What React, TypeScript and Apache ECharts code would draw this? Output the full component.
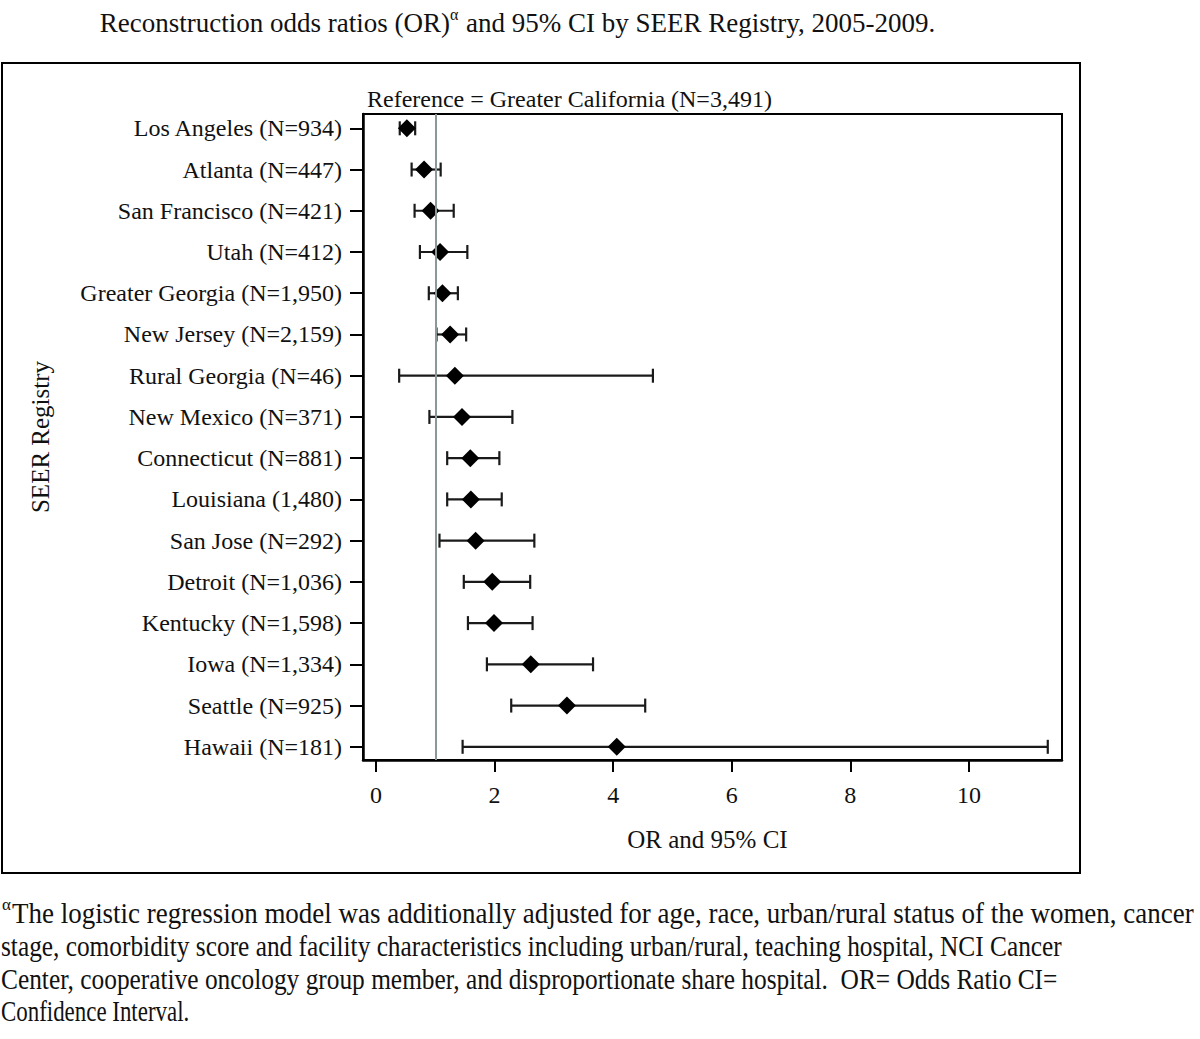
import React, { useEffect, useRef } from "react";
import * as echarts from "echarts";

const registries = [
  "Los Angeles (N=934)",
  "Atlanta (N=447)",
  "San Francisco (N=421)",
  "Utah (N=412)",
  "Greater Georgia (N=1,950)",
  "New Jersey (N=2,159)",
  "Rural Georgia (N=46)",
  "New Mexico (N=371)",
  "Connecticut (N=881)",
  "Louisiana (1,480)",
  "San Jose (N=292)",
  "Detroit (N=1,036)",
  "Kentucky (N=1,598)",
  "Iowa (N=1,334)",
  "Seattle (N=925)",
  "Hawaii (N=181)",
];
const oddsRatio = [0.52, 0.81, 0.92, 1.08, 1.12, 1.25, 1.33, 1.45, 1.59, 1.6, 1.68, 1.96, 1.99, 2.61, 3.22, 4.06];
const ciLower = [0.4, 0.6, 0.65, 0.74, 0.89, 1.02, 0.39, 0.9, 1.2, 1.2, 1.07, 1.48, 1.55, 1.87, 2.28, 1.46];
const ciUpper = [0.66, 1.09, 1.31, 1.54, 1.38, 1.52, 4.67, 2.3, 2.08, 2.12, 2.67, 2.6, 2.64, 3.66, 4.54, 11.33];
const xTicks = [0, 2, 4, 6, 8, 10];
const referenceOR = 1;

const titleLeft = "Reconstruction odds ratios (OR)";
const titleRight = "and 95% CI by SEER Registry, 2005-2009.";
const referenceText = "Reference = Greater California (N=3,491)";
const footnoteLines = [
  "The logistic regression model was additionally adjusted for age, race, urban/rural status of the women, cancer",
  "stage, comorbidity score and facility characteristics including urban/rural, teaching hospital, NCI Cancer",
  "Center, cooperative oncology group member, and disproportionate share hospital.\u00a0 OR= Odds Ratio CI=",
  "Confidence Interval.",
];

const FONT = "'Liberation Serif', 'Times New Roman', serif";
const INK = "#111";

export default function App() {
  const ref = useRef<HTMLDivElement>(null);

  useEffect(() => {
    if (!ref.current) return;
    const chart = echarts.init(ref.current, undefined, { renderer: "svg" });
    const rowIdx = registries.map((_, i) => i);

    const footY = [913.5, 946, 979, 1011.5];
    const footX = [12, 1, 1, 1];
    const footScale = [0.93, 0.874, 0.875, 0.79];

    const option: any = {
      animation: false,
      backgroundColor: "#fff",
      grid: {
        left: 363,
        right: 138,
        top: 114,
        bottom: 279,
        show: true,
        borderColor: "#000",
        borderWidth: 2,
        backgroundColor: "transparent",
      },
      xAxis: {
        type: "value",
        min: -0.22,
        max: 11.57,
        name: "OR and 95% CI",
        nameLocation: "middle",
        nameGap: 67,
        nameTextStyle: { fontFamily: FONT, fontSize: 25, color: INK, padding: [0, 10, 0, 0] },
        axisLine: { show: true, onZero: false, lineStyle: { color: "#000", width: 2.5 } },
        axisTick: { show: true, length: 12, customValues: xTicks, lineStyle: { color: "#000", width: 2 } },
        axisLabel: {
          customValues: xTicks,
          margin: 23,
          fontFamily: FONT,
          fontSize: 24,
          color: INK,
          formatter: (v: number) => String(v),
        },
        splitLine: { show: false },
      },
      yAxis: {
        type: "value",
        inverse: true,
        min: -0.347,
        max: 15.32,
        axisLine: { show: true, onZero: false, lineStyle: { color: "#000", width: 2.5 } },
        axisTick: { show: true, length: 13, customValues: rowIdx, lineStyle: { color: "#000", width: 2 } },
        axisLabel: {
          customValues: rowIdx,
          margin: 21,
          fontFamily: FONT,
          fontSize: 24,
          color: INK,
          formatter: (v: number) => registries[Math.round(v)] ?? "",
        },
        splitLine: { show: false },
      },
      graphic: [
        {
          type: "rect",
          shape: { x: 2, y: 63, width: 1078, height: 810 },
          style: { fill: "none", stroke: "#000", lineWidth: 2 },
          silent: true,
        },
        {
          type: "text",
          x: 450,
          y: 23,
          style: { text: titleLeft, font: `27px ${FONT}`, fill: INK, align: "right", verticalAlign: "middle" },
        },
        {
          type: "text",
          x: 450,
          y: 14,
          style: { text: "α", font: `16px ${FONT}`, fill: INK, align: "left", verticalAlign: "middle" },
        },
        {
          type: "text",
          x: 466,
          y: 23,
          style: { text: titleRight, font: `27px ${FONT}`, fill: INK, align: "left", verticalAlign: "middle" },
        },
        {
          type: "text",
          x: 367,
          y: 99,
          style: { text: referenceText, font: `24px ${FONT}`, fill: INK, align: "left", verticalAlign: "middle" },
        },
        {
          type: "text",
          x: 40,
          y: 437,
          rotation: Math.PI / 2,
          style: { text: "SEER Registry", font: `25px ${FONT}`, fill: INK, align: "center", verticalAlign: "middle" },
        },
        {
          type: "text",
          x: 2,
          y: 904,
          style: { text: "α", font: `17px ${FONT}`, fill: INK, align: "left", verticalAlign: "middle" },
        },
        ...footnoteLines.map((t, i) => ({
          type: "text",
          x: footX[i],
          y: footY[i],
          scaleX: footScale[i],
          style: { text: t, font: `29px ${FONT}`, fill: INK, align: "left", verticalAlign: "middle" },
        })),
      ],
      series: [
        {
          type: "custom",
          name: "95% CI",
          z: 2,
          encode: { x: [1, 2], y: 0 },
          data: rowIdx.map((i) => [i, ciLower[i], ciUpper[i]]),
          renderItem: (params: any, api: any) => {
            const idx = api.value(0);
            const p1 = api.coord([api.value(1), idx]);
            const p2 = api.coord([api.value(2), idx]);
            const h = 7;
            const st = { stroke: "#1a1a1a", lineWidth: 2.2 };
            return {
              type: "group",
              children: [
                { type: "line", shape: { x1: p1[0], y1: p1[1], x2: p2[0], y2: p2[1] }, style: st },
                { type: "line", shape: { x1: p1[0], y1: p1[1] - h, x2: p1[0], y2: p1[1] + h }, style: st },
                { type: "line", shape: { x1: p2[0], y1: p2[1] - h, x2: p2[0], y2: p2[1] + h }, style: st },
              ],
            };
          },
          markLine: {
            silent: true,
            symbol: ["none", "none"],
            label: { show: false },
            lineStyle: { color: "#8a9898", width: 2, type: "solid" },
            data: [{ xAxis: referenceOR }],
          },
        },
        {
          type: "scatter",
          name: "OR",
          z: 3,
          symbol: "diamond",
          symbolSize: 18,
          itemStyle: { color: "#000", opacity: 1 },
          data: oddsRatio.map((v, i) => [v, i]),
        },
      ],
    };

    chart.setOption(option);
    return () => chart.dispose();
  }, []);

  return (
    <div
      ref={ref}
      style={{ position: "absolute", left: 0, top: 0, width: 1200, height: 1039, background: "#fff" }}
    />
  );
}
